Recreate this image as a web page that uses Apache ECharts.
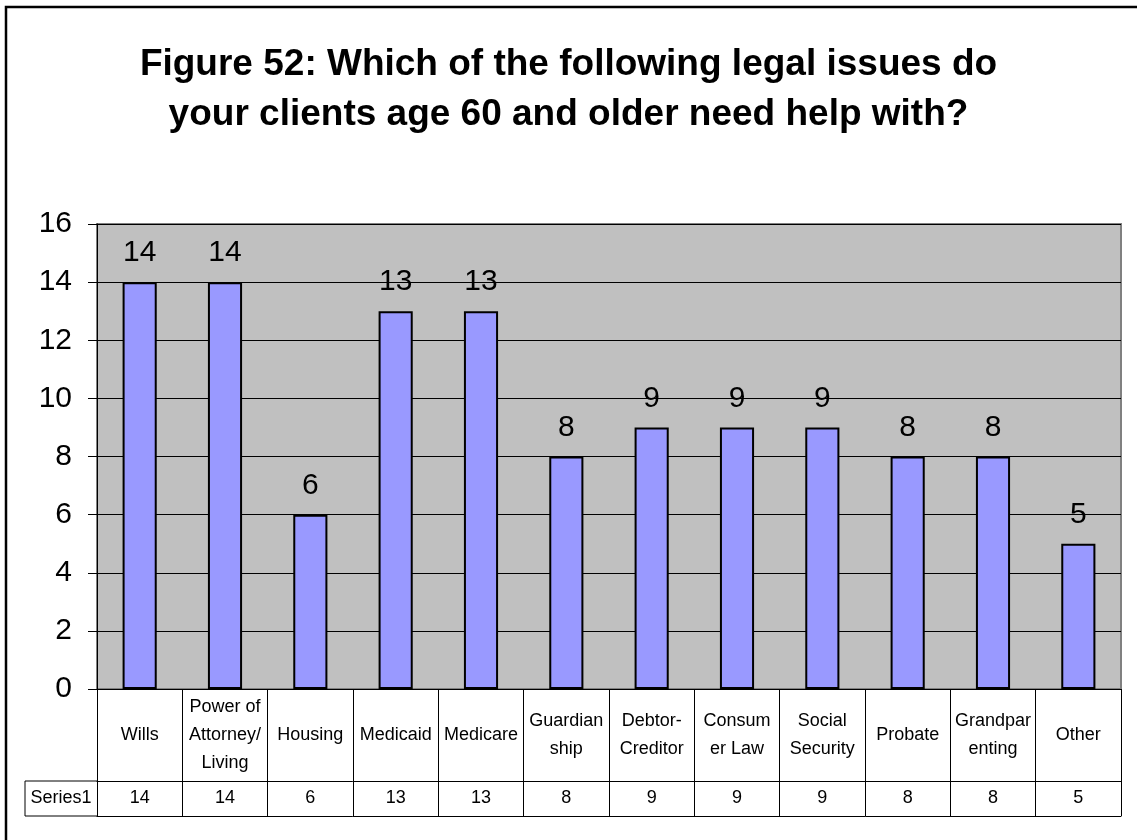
<!DOCTYPE html>
<html>
<head>
<meta charset="utf-8">
<script src="https://cdn.jsdelivr.net/npm/echarts@6/dist/echarts.min.js"></script>
<style>
html,body{margin:0;padding:0;background:#fff;}
#chart{width:1137px;height:840px;}
</style>
</head>
<body>
<div id="chart"></div>
<script>
// ---- data ----
var titleText = 'Figure 52: Which of the following legal issues do\nyour clients age 60 and older need help with?';
var categories = ['Wills', 'Power of\nAttorney/\nLiving', 'Housing', 'Medicaid', 'Medicare', 'Guardian\nship', 'Debtor-\nCreditor', 'Consum\ner Law', 'Social\nSecurity', 'Probate', 'Grandpar\nenting', 'Other'];
var values = [14, 14, 6, 13, 13, 8, 9, 9, 9, 8, 8, 5];
var seriesName = 'Series1';
var yTicks = { min: 0, max: 16, interval: 2 };

var FONT = "'Liberation Sans', Arial, sans-serif";

var chart = echarts.init(document.getElementById('chart'), null, { renderer: 'canvas' });

var option = {
  backgroundColor: '#ffffff',
  animation: false,
  title: {
    text: titleText,
    left: 'center',
    top: 35,
    textStyle: { fontFamily: FONT, fontSize: 37, fontWeight: 'bold', lineHeight: 50, color: '#000' }
  },
  grid: {
    left: 97, right: 16, top: 224, bottom: 151,
    show: true, backgroundColor: '#C0C0C0', borderColor: '#808080', borderWidth: 2
  },
  xAxis: [
    {
      type: 'category', data: categories, position: 'bottom',
      axisLine: { show: true, lineStyle: { color: '#000', width: 1 } },
      axisTick: { show: true, length: 92, interval: 0, lineStyle: { color: '#000', width: 1 } },
      axisLabel: { interval: 0, margin: 46, verticalAlign: 'middle', fontFamily: FONT, fontSize: 18, lineHeight: 28, color: '#000' }
    },
    {
      type: 'category', data: values.map(String), position: 'bottom', offset: 92,
      axisLine: { show: true, lineStyle: { color: '#000', width: 1 } },
      axisTick: { show: true, length: 35, interval: 0, lineStyle: { color: '#000', width: 1 } },
      axisLabel: { interval: 0, margin: 17, verticalAlign: 'middle', fontFamily: FONT, fontSize: 18, color: '#000' }
    },
    {
      type: 'category', data: categories, position: 'bottom', offset: 127,
      axisLine: { show: true, lineStyle: { color: '#000', width: 1 } },
      axisTick: { show: false }, axisLabel: { show: false }
    }
  ],
  yAxis: {
    type: 'value', min: yTicks.min, max: yTicks.max, interval: yTicks.interval,
    axisLine: { show: true, lineStyle: { color: '#000', width: 1 } },
    axisTick: { show: true, length: 9, lineStyle: { color: '#000', width: 1 } },
    splitLine: { show: true, lineStyle: { color: '#000', width: 1 } },
    axisLabel: { margin: 25, fontFamily: FONT, fontSize: 30, color: '#000' }
  },
  series: [{
    name: seriesName, type: 'bar', data: values, xAxisIndex: 0,
    barCategoryGap: '60%',
    itemStyle: { color: '#9999FF', borderColor: '#000', borderWidth: 2 },
    label: { show: true, position: 'top', distance: 14, fontFamily: FONT, fontSize: 30, color: '#000' }
  }],
  graphic: [
    { type: 'rect', z: -10, shape: { x: 6, y: 7, width: 1300, height: 1000 }, style: { fill: 'none', stroke: '#000', lineWidth: 2.5 } },
    { type: 'line', shape: { x1: 25, y1: 781, x2: 97, y2: 781 }, style: { stroke: '#000', lineWidth: 1 } },
    { type: 'line', shape: { x1: 25, y1: 816, x2: 97, y2: 816 }, style: { stroke: '#000', lineWidth: 1 } },
    { type: 'line', shape: { x1: 25, y1: 781, x2: 25, y2: 816 }, style: { stroke: '#000', lineWidth: 1 } },
    { type: 'text', x: 61, y: 798.5, style: { text: seriesName, fontFamily: FONT, fontSize: 18, fill: '#000', align: 'center', verticalAlign: 'middle' } }
  ]
};
chart.setOption(option);
</script>
</body>
</html>
